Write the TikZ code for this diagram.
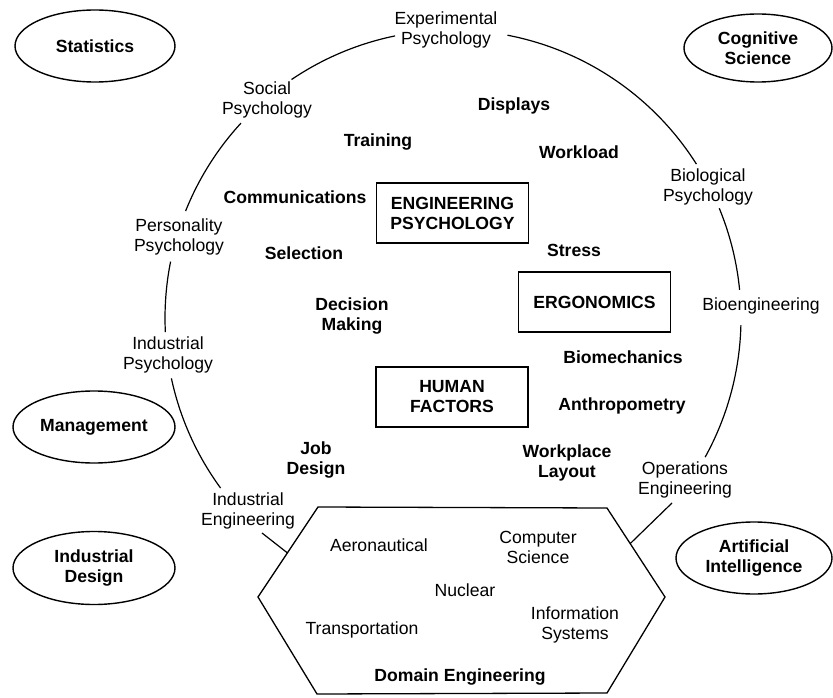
\documentclass[tikz,border=0pt]{standalone}
\usepackage{fontspec}
\setmainfont{Liberation Sans}
\usetikzlibrary{shapes.geometric,calc}
\begin{document}
\begin{tikzpicture}[x=1pt,y=1pt,
  every node/.style={font=\fontsize{17.6}{20}\selectfont, inner sep=0pt, align=center},
  topic/.style={font=\fontsize{17.6}{20}\selectfont\bfseries},
  field/.style={draw, ellipse, line width=1.4pt, inner sep=0pt, font=\fontsize{17.6}{20}\selectfont\bfseries},
  area/.style={draw, rectangle, line width=1.3pt, minimum width=152pt, minimum height=60pt, font=\fontsize{17.6}{20}\selectfont\bfseries},
  link/.style={line width=1.2pt},
  hexline/.style={line width=1.3pt, line join=miter}]
\useasboundingbox (0,0) rectangle (833,-698);

% outer fields
\node[field, minimum width=160pt, minimum height=72pt] (stat) at (95,-46) {Statistics};
\node[field, minimum width=148pt, minimum height=68pt] (cog) at (758,-48) {Cognitive\\Science};
\node[field, minimum width=162pt, minimum height=72pt] (mgmt) at (94,-427) {Management};
\node[field, minimum width=162pt, minimum height=73pt] (ides) at (94,-568) {Industrial\\Design};
\node[field, minimum width=156pt, minimum height=72pt] (ai) at (754,-558) {Artificial\\Intelligence};

% central boxes
\node[area] (engpsy) at (452.5,-213) {ENGINEERING\\PSYCHOLOGY};
\node[area] (ergo) at (594.5,-302) {ERGONOMICS};
\node[area] (hf) at (452,-397) {HUMAN\\FACTORS};

% circle labels
\node (exp) at (446,-30) {Experimental\\Psychology};
\node (soc) at (267,-100) {Social\\Psychology};
\node (pers) at (179,-237) {Personality\\Psychology};
\node (indp) at (168,-355) {Industrial\\Psychology};
\node (inde) at (248,-511) {Industrial\\Engineering};
\node (bio) at (708,-187) {Biological\\Psychology};
\node (bioe) at (761,-306) {Bioengineering};
\node (ops) at (685,-480) {Operations\\Engineering};

% topics
\node[topic] (disp) at (514,-106) {Displays};
\node[topic] (train) at (378,-142) {Training};
\node[topic] (work) at (579,-152) {Workload};
\node[topic] (comm) at (295,-197) {Communications};
\node[topic] (sel) at (304,-253) {Selection};
\node[topic] (stress) at (574,-250) {Stress};
\node[topic] (dec) at (352,-316) {Decision\\Making};
\node[topic] (biom) at (623,-357) {Biomechanics};
\node[topic] (anth) at (622,-406) {Anthropometry};
\node[topic] (wpl) at (567,-463) {Workplace\\Layout};
\node[topic] (job) at (316,-460) {Job\\Design};

% hexagon
\coordinate (h1) at (318,-507);
\coordinate (h2) at (607,-508);
\coordinate (h3) at (665,-597);
\coordinate (h4) at (607,-693);
\coordinate (h5) at (317,-694);
\coordinate (h6) at (258,-597);
\draw[hexline] (h1) -- (h2) -- (h3) -- (h4) -- (h5) -- (h6) -- cycle;

\node (aero) at (379,-545) {Aeronautical};
\node (cs) at (538,-547) {Computer\\Science};
\node (nuc) at (465,-590) {Nuclear};
\node (trans) at (362,-630) {Transportation};
\node (info) at (575,-625) {Information\\Systems};
\node[topic] (dom) at (460,-677) {Domain Engineering};

% circle arcs
\coordinate (ctr) at (453,-318);
\def\R{288}
\draw[link] (ctr) ++(101.6:\R) coordinate (a1) arc[start angle=101.6, end angle=124.1, radius=\R];
\draw[link] (ctr) ++(137.4:\R) coordinate (a2) arc[start angle=137.4, end angle=158.2, radius=\R];
\draw[link] (ctr) ++(168.7:\R) coordinate (a3) arc[start angle=168.7, end angle=182.8, radius=\R];
\draw[link] (ctr) ++(192.1:\R) coordinate (a4) arc[start angle=192.1, end angle=216.2, radius=\R];
\draw[link] (ctr) ++(79.1:\R) coordinate (a5) arc[start angle=79.1, end angle=32.3, radius=\R];
\draw[link] (ctr) ++(22.4:\R) coordinate (a6) arc[start angle=22.4, end angle=5.6, radius=\R];
\draw[link] (ctr) ++(-1.4:\R) coordinate (a7) arc[start angle=-1.4, end angle=-28.9, radius=\R];

% straight connectors to hexagon
\coordinate (ie1) at (262,-533);
\coordinate (hx1) at ($(h1)!0.51!(h6)$);
\draw[link] (ie1) -- (hx1);
\coordinate (oe1) at (672,-503);
\coordinate (hx2) at ($(h2)!0.40!(h3)$);
\draw[link] (oe1) -- (hx2);
\end{tikzpicture}
\end{document}
